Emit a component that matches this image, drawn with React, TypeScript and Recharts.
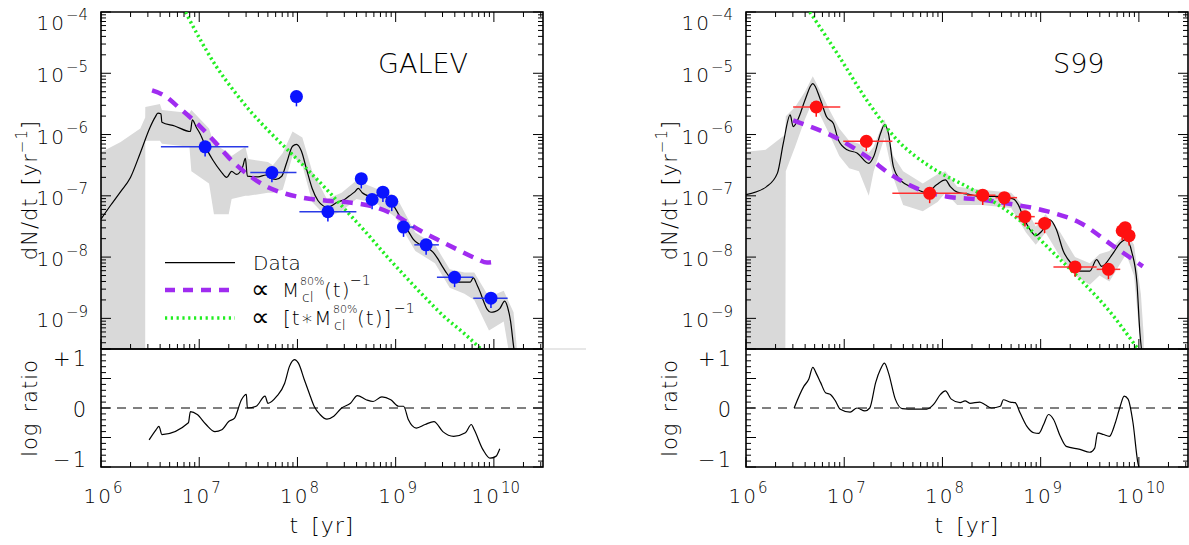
import React from 'react'
import { ComposedChart, Line, Area, Scatter, XAxis, YAxis, ReferenceLine, ReferenceArea, ErrorBar } from 'recharts'

// all values are log10: x = log t [yr], y = log dN/dt [yr^-1]

// ---- GALEV panel ----
const galevT = [6.0, 6.1, 6.2, 6.3, 6.4, 6.5, 6.55, 6.58, 6.61, 6.62, 6.75, 6.91, 6.93, 6.97, 7.01, 7.08, 7.14, 7.22, 7.28, 7.33, 7.38, 7.44, 7.47, 7.49, 7.6, 7.68, 7.71, 7.78, 7.84, 7.89, 7.95, 7.99, 8.04, 8.09, 8.15, 8.21, 8.26, 8.3, 8.35, 8.4, 8.48, 8.53, 8.58, 8.62, 8.66, 8.69, 8.75, 8.82, 8.87, 8.92, 8.97, 9.03, 9.08, 9.13, 9.18, 9.23, 9.28, 9.33, 9.38, 9.43, 9.47, 9.51, 9.55, 9.6, 9.65, 9.72, 9.76, 9.79, 9.83, 9.86, 9.9, 9.93, 9.97, 10.01, 10.06, 10.11, 10.14, 10.17, 10.2, 10.23]
const galevN = [-7.38, -7.15, -6.93, -6.7, -6.3, -5.88, -5.72, -5.65, -5.66, -5.8, -5.86, -5.95, -5.76, -5.88, -5.99, -6.25, -6.42, -6.6, -6.7, -6.6, -6.65, -6.54, -6.39, -6.68, -6.69, -6.66, -6.7, -6.73, -6.68, -6.46, -6.19, -6.16, -6.27, -6.55, -6.88, -7.08, -7.16, -7.19, -7.16, -7.11, -7.06, -7.0, -6.94, -6.88, -6.95, -6.98, -7.01, -6.99, -7.0, -7.05, -7.14, -7.3, -7.44, -7.58, -7.71, -7.78, -7.82, -7.86, -7.92, -8.03, -8.14, -8.24, -8.33, -8.39, -8.41, -8.41, -8.41, -8.34, -8.46, -8.57, -8.74, -8.85, -8.9, -8.89, -8.84, -8.72, -8.82, -9.05, -9.45, -9.8]
const galevBandT = [6.0, 6.2, 6.4, 6.45, 6.451, 6.6, 6.62, 6.9, 6.92, 7.1, 7.15, 7.3, 7.33, 7.47, 7.5, 7.7, 7.75, 7.85, 7.95, 8.05, 8.15, 8.3, 8.45, 8.6, 8.8, 9.0, 9.2, 9.4, 9.55, 9.7, 9.8, 9.95, 10.1, 10.2, 10.24]
const galevBandLo = [-10, -10, -10, -10, -6.1, -6.1, -6.15, -6.2, -6.6, -6.8, -7.3, -7.3, -7.05, -7.0, -7.0, -6.95, -6.95, -6.9, -6.35, -6.5, -7.1, -7.35, -7.25, -7.05, -7.12, -7.35, -7.9, -8.1, -8.5, -8.6, -8.7, -9.2, -9.05, -10, -10]
const galevBandHi = [-6.29, -6.12, -5.9, -5.72, -5.55, -5.5, -5.6, -5.65, -5.6, -5.9, -6.15, -6.3, -6.35, -6.2, -6.4, -6.45, -6.5, -6.3, -5.95, -6.05, -6.6, -7.05, -6.95, -6.75, -6.88, -7.0, -7.6, -7.8, -8.2, -8.25, -8.25, -8.65, -8.55, -8.9, -9.6]
const galevMT = [6.52, 6.63, 6.8, 7.01, 7.17, 7.34, 7.51, 7.7, 7.89, 8.05, 8.3, 8.53, 8.8, 9.01, 9.22, 9.42, 9.62, 9.83, 9.93, 10.03]
const galevM = [-5.28, -5.35, -5.57, -5.87, -6.14, -6.44, -6.67, -6.86, -6.97, -7.03, -7.08, -7.11, -7.19, -7.33, -7.54, -7.71, -7.87, -8.03, -8.09, -8.07]
const galevGT = [6.86, 7.0, 7.17, 7.35, 7.51, 7.7, 7.9, 8.1, 8.3, 8.5, 8.7, 8.9, 9.1, 9.3, 9.5, 9.7, 9.9]
const galevG = [-4.0, -4.42, -4.88, -5.28, -5.6, -5.93, -6.25, -6.57, -6.9, -7.25, -7.6, -7.97, -8.32, -8.66, -8.98, -9.25, -9.55]
const galevPtT = [7.06, 7.74, 7.99, 8.31, 8.65, 8.76, 8.87, 8.96, 9.08, 9.31, 9.6, 9.97]
const galevPtN = [-6.2, -6.62, -5.38, -7.26, -6.72, -7.06, -6.94, -7.09, -7.51, -7.8, -8.33, -8.67]
const galevPtLo = [6.61, 7.52, 7.99, 8.02, 8.65, 8.76, 8.87, 8.96, 9.03, 9.19, 9.42, 9.79]
const galevPtHi = [7.5, 7.99, 7.99, 8.6, 8.65, 8.76, 8.87, 8.96, 9.19, 9.44, 9.79, 10.14]
const galevRT = [6.49, 6.56, 6.59, 6.62, 6.89, 6.91, 6.98, 7.07, 7.16, 7.23, 7.3, 7.36, 7.43, 7.48, 7.49, 7.58, 7.67, 7.7, 7.79, 7.87, 7.92, 7.97, 8.01, 8.07, 8.12, 8.17, 8.23, 8.3, 8.37, 8.45, 8.54, 8.61, 8.7, 8.77, 8.86, 8.95, 9.03, 9.08, 9.13, 9.21, 9.3, 9.39, 9.48, 9.59, 9.71, 9.77, 9.8, 9.89, 9.96, 10.02, 10.06]
const galevR = [-0.54, -0.37, -0.31, -0.45, -0.25, -0.06, -0.11, -0.28, -0.4, -0.37, -0.23, -0.17, 0.14, 0.23, 0.0, 0.03, 0.2, 0.08, 0.2, 0.42, 0.71, 0.82, 0.76, 0.48, 0.25, 0.03, -0.11, -0.19, -0.14, 0.0, 0.08, 0.21, 0.14, 0.11, 0.19, 0.14, 0.03, 0.03, -0.2, -0.34, -0.28, -0.23, -0.4, -0.48, -0.42, -0.28, -0.37, -0.71, -0.85, -0.82, -0.69]

// ---- S99 panel ----
const s99T = [6.0, 6.21, 6.32, 6.38, 6.45, 6.48, 6.54, 6.6, 6.68, 6.76, 6.82, 6.89, 6.94, 7.03, 7.13, 7.25, 7.3, 7.37, 7.41, 7.45, 7.5, 7.57, 7.71, 7.84, 7.94, 8.03, 8.08, 8.15, 8.28, 8.38, 8.55, 8.72, 8.77, 8.82, 8.89, 8.95, 9.01, 9.09, 9.16, 9.23, 9.32, 9.4, 9.5, 9.57, 9.62, 9.74, 9.81, 9.87, 9.93, 9.98, 10.01, 10.03]
const s99N = [-6.98, -6.85, -6.63, -6.14, -5.68, -5.87, -5.71, -5.44, -5.17, -5.44, -5.71, -5.82, -6.09, -6.25, -6.3, -6.47, -6.36, -5.98, -5.84, -5.98, -6.52, -6.74, -6.87, -6.95, -6.82, -6.74, -6.85, -6.94, -6.98, -7.01, -7.01, -7.05, -7.14, -7.33, -7.55, -7.65, -7.58, -7.39, -7.55, -7.9, -8.12, -8.23, -8.23, -8.04, -8.15, -7.93, -7.77, -7.71, -7.93, -8.42, -9.23, -9.56]
const s99BandT = [6.0, 6.2, 6.4, 6.405, 6.5, 6.6, 6.68, 6.76, 6.85, 6.95, 7.05, 7.15, 7.25, 7.3, 7.41, 7.5, 7.6, 7.8, 7.95, 8.03, 8.15, 8.4, 8.7, 8.85, 8.95, 9.05, 9.2, 9.35, 9.5, 9.6, 9.7, 9.87, 9.95, 10.02, 10.05]
const s99BandLo = [-10, -10, -10, -6.6, -6.2, -5.75, -5.45, -5.7, -6.0, -6.35, -6.55, -6.6, -7.0, -6.6, -6.05, -6.7, -7.15, -7.25, -7.1, -6.95, -7.15, -7.15, -7.2, -7.6, -7.8, -7.6, -8.0, -8.3, -8.45, -8.3, -8.4, -7.95, -8.3, -9.5, -10]
const s99BandHi = [-6.28, -6.25, -6.0, -5.7, -5.55, -5.3, -5.05, -5.3, -5.6, -5.9, -6.1, -6.15, -6.3, -6.2, -5.75, -6.35, -6.6, -6.8, -6.65, -6.6, -6.85, -6.9, -6.95, -7.2, -7.5, -7.3, -7.6, -8.0, -8.1, -7.95, -7.9, -7.6, -7.8, -8.6, -9.3]
const s99MT = [6.48, 6.96, 7.23, 7.5, 7.77, 8.04, 8.38, 8.72, 9.06, 9.4, 9.74, 10.04]
const s99M = [-5.77, -6.09, -6.36, -6.68, -6.9, -7.01, -7.06, -7.14, -7.25, -7.44, -7.82, -8.15]
const s99GT = [6.65, 6.93, 7.23, 7.54, 7.87, 8.25, 8.4, 8.59, 8.86, 9.06, 9.4, 9.74, 9.94, 10.0]
const s99G = [-4.0, -4.68, -5.44, -6.09, -6.52, -6.85, -6.98, -7.17, -7.5, -7.82, -8.36, -8.96, -9.39, -9.52]
const s99PtT = [6.715, 7.225, 7.87, 8.41, 8.63, 8.84, 9.04, 9.35, 9.69, 9.83, 9.86, 9.9]
const s99PtN = [-5.55, -6.11, -6.96, -6.99, -7.03, -7.34, -7.45, -8.16, -8.2, -7.57, -7.52, -7.65]
const s99PtLo = [6.48, 6.99, 7.49, 8.25, 8.54, 8.74, 8.94, 9.13, 9.57, 9.83, 9.86, 9.9]
const s99PtHi = [6.96, 7.49, 8.25, 8.54, 8.76, 8.94, 9.1, 9.57, 9.81, 9.83, 9.86, 9.9]
const s99RT = [6.49, 6.59, 6.64, 6.68, 6.72, 6.76, 6.81, 6.86, 6.91, 6.96, 7.06, 7.13, 7.21, 7.26, 7.32, 7.37, 7.41, 7.45, 7.52, 7.59, 7.71, 7.84, 7.91, 7.98, 8.03, 8.09, 8.18, 8.23, 8.28, 8.38, 8.43, 8.5, 8.59, 8.62, 8.69, 8.74, 8.79, 8.86, 8.93, 8.98, 9.03, 9.08, 9.13, 9.2, 9.26, 9.4, 9.5, 9.55, 9.58, 9.64, 9.7, 9.76, 9.81, 9.85, 9.89, 9.94, 9.99, 10.01]
const s99R = [0.0, 0.37, 0.49, 0.69, 0.57, 0.43, 0.26, 0.23, 0.12, -0.02, -0.07, 0.0, -0.05, 0.0, 0.43, 0.66, 0.76, 0.6, 0.15, -0.01, -0.02, -0.02, 0.06, 0.23, 0.29, 0.15, 0.09, 0.12, 0.08, 0.1, 0.06, 0.0, 0.03, 0.14, 0.1, 0.09, -0.08, -0.31, -0.42, -0.43, -0.28, -0.11, -0.19, -0.48, -0.65, -0.7, -0.75, -0.68, -0.42, -0.45, -0.48, -0.25, 0.03, 0.2, 0.15, -0.25, -0.93, -1.05]

// axis ticks
const X_DECADES = [6, 7, 8, 9, 10]
const Y_DECADES = [-10, -9, -8, -7, -6, -5]
const MINOR = [1, 2, 3, 4, 5, 6, 7, 8, 9]
const X_TICKS = X_DECADES.flatMap((d) => MINOR.map((k) => d + Math.log10(k))).filter((v) => v <= 10.5)
const Y_TICKS = [...Y_DECADES.flatMap((d) => MINOR.map((k) => d + Math.log10(k))).filter((v) => v >= -9.5), -4]
const R_TICKS = Array.from({ length: 21 }, (_, i) => (i - 10) / 10)
const R_LABELS: Record<string, string> = { '1': '+1', '0': '0', '-1': '\u22121' }

const FONT = "'DejaVu Sans', sans-serif"
const FW = 200
const PH = 337
const RH = 118

const xy = (xs: number[], ys: number[]) => xs.map((x, i) => ({ x, y: ys[i] }))
const band = (xs: number[], lo: number[], hi: number[]) => xs.map((x, i) => ({ x, r: [lo[i], hi[i]] }))
const pts = (xs: number[], ys: number[], lo: number[], hi: number[]) =>
  xs.map((x, i) => ({ x, y: ys[i], ex: [x - lo[i], hi[i] - x], ey: [0.16, 0] }))

const isInt = (v: number) => Math.abs(v - Math.round(v)) < 1e-6

const yTickTop = (pw: number) => (p: any) => {
  const { x, y, payload } = p
  const v = payload.value
  const major = isInt(v)
  const len = major ? 10 : 5
  const shift = Math.round(v) === -4 && major ? 9 : 0
  return (
    <g>
      <line x1={x} x2={x + len} y1={y} y2={y} stroke="#000" strokeWidth={1} />
      <line x1={x + pw} x2={x + pw - len} y1={y} y2={y} stroke="#000" strokeWidth={1} />
      {major && (
        <text x={x - 13} y={y + 9 + shift} textAnchor="end" fontSize={20} fontFamily={FONT} fontWeight={FW} fill="#000" letterSpacing={2}>
          10<tspan dy={-10.5} fontSize={15} letterSpacing={0}>{'\u2212' + Math.round(-v)}</tspan>
        </text>
      )}
    </g>
  )
}

const yTickRatio = (pw: number) => (p: any) => {
  const { x, y, payload } = p
  const v = payload.value
  const major = isInt(v * 2)
  const len = major ? 10 : 5
  const lab = isInt(v) ? R_LABELS[String(Math.round(v))] : null
  const shift = v > 0.5 ? 8 : v < -0.5 ? -9 : 0
  return (
    <g>
      <line x1={x} x2={x + len} y1={y} y2={y} stroke="#000" strokeWidth={1} />
      <line x1={x + pw} x2={x + pw - len} y1={y} y2={y} stroke="#000" strokeWidth={1} />
      {lab && (
        <text x={x - 13} y={y + 9 + shift} textAnchor="end" fontSize={21} fontFamily={FONT} fontWeight={FW} fill="#000" letterSpacing={2}>
          {lab}
        </text>
      )}
    </g>
  )
}

const xTick = (ph: number, labels: boolean) => (p: any) => {
  const { x, y, payload } = p
  const v = payload.value
  const major = isInt(v)
  const len = major ? 10 : 5
  return (
    <g>
      <line x1={x} x2={x} y1={y} y2={y - len} stroke="#000" strokeWidth={1} />
      {!labels && <line x1={x} x2={x} y1={y - ph} y2={y - ph + len} stroke="#000" strokeWidth={1} />}
      {labels && major && (
        <text x={x + 2} y={y + 36} textAnchor="middle" fontSize={20} fontFamily={FONT} fontWeight={FW} fill="#000" letterSpacing={2}>
          10<tspan dy={-10} fontSize={15} letterSpacing={0}>{Math.round(v)}</tspan>
        </text>
      )}
    </g>
  )
}

interface PanelProps {
  divLeft: number
  plotLeft: number
  width: number
  pw: number
  lineT: number[]
  lineN: number[]
  bandT: number[]
  bandLo: number[]
  bandHi: number[]
  mT: number[]
  mN: number[]
  gT: number[]
  gN: number[]
  ptT: number[]
  ptN: number[]
  ptLo: number[]
  ptHi: number[]
  rT: number[]
  rV: number[]
  color: string
  errColor: string
}

function Panel(props: PanelProps) {
  const { divLeft, plotLeft, width, pw, color, errColor } = props
  const ml = plotLeft - divLeft
  const mr = width - ml - pw
  const dot = (p: any) => <circle cx={p.cx} cy={p.cy} r={6.5} fill={color} />
  return (
    <>
      <div style={{ position: 'absolute', left: divLeft, top: 0 }}>
        <ComposedChart width={width} height={360} margin={{ top: 12, left: ml - 1, right: mr, bottom: 10 }}>
          <XAxis type="number" dataKey="x" domain={[6, 10.5]} ticks={X_TICKS} interval={0} allowDataOverflow height={1} tickSize={0} tickMargin={0} tickLine={false} axisLine={false} tick={xTick(PH, false)} />
          <YAxis type="number" domain={[-9.5, -4]} ticks={Y_TICKS} interval={0} allowDataOverflow width={1} tickSize={0} tickMargin={0} tickLine={false} axisLine={false} tick={yTickTop(pw)} />
          <Area data={band(props.bandT, props.bandLo, props.bandHi)} dataKey="r" type="linear" stroke="none" fill="#d9d9d9" fillOpacity={1} isAnimationActive={false} dot={false} activeDot={false} />
          <Line data={xy(props.lineT, props.lineN)} dataKey="y" type="monotone" stroke="#000" strokeWidth={1.2} dot={false} activeDot={false} isAnimationActive={false} />
          <Line data={xy(props.mT, props.mN)} dataKey="y" type="monotone" stroke="#a02cf0" strokeWidth={4.5} strokeDasharray="11 8" dot={false} activeDot={false} isAnimationActive={false} />
          <Line data={xy(props.gT, props.gN)} dataKey="y" type="monotone" stroke="#22ee22" strokeWidth={3.5} strokeDasharray="2.2 3" dot={false} activeDot={false} isAnimationActive={false} />
          <Scatter data={pts(props.ptT, props.ptN, props.ptLo, props.ptHi)} dataKey="y" shape={dot} isAnimationActive={false}>
            <ErrorBar dataKey="ex" direction="x" width={0} stroke={errColor} strokeWidth={1.5} isAnimationActive={false} />
            <ErrorBar dataKey="ey" direction="y" width={0} stroke={color} strokeWidth={1.5} isAnimationActive={false} />
          </Scatter>
          <ReferenceArea x1={6} x2={10.5} y1={-9.5} y2={-4} fill="none" stroke="#000" strokeWidth={1.6} ifOverflow="visible" />
        </ComposedChart>
      </div>
      <div style={{ position: 'absolute', left: divLeft, top: 340 }}>
        <ComposedChart width={width} height={205} margin={{ top: 9, left: ml - 1, right: mr, bottom: 77 }}>
          <XAxis type="number" dataKey="x" domain={[6, 10.5]} ticks={X_TICKS} interval={0} allowDataOverflow height={1} tickSize={0} tickMargin={0} tickLine={false} axisLine={false} tick={xTick(RH, true)} />
          <YAxis type="number" domain={[-1, 1]} ticks={R_TICKS} interval={0} allowDataOverflow width={1} tickSize={0} tickMargin={0} tickLine={false} axisLine={false} tick={yTickRatio(pw)} />
          <ReferenceLine y={0} stroke="#000" strokeWidth={1} strokeDasharray="9 7" />
          <Line data={xy(props.rT, props.rV)} dataKey="y" type="monotone" stroke="#000" strokeWidth={1.2} dot={false} activeDot={false} isAnimationActive={false} />
          <ReferenceArea x1={6} x2={10.5} y1={-1} y2={1} fill="none" stroke="#000" strokeWidth={1.6} ifOverflow="visible" />
        </ComposedChart>
      </div>
    </>
  )
}

const txt = { fontFamily: FONT, fontWeight: FW, fill: '#000' } as const

function Titles({ axisX, plotMid }: { axisX: number; plotMid: number }) {
  return (
    <>
      <text transform={`translate(${axisX},190) rotate(-90)`} textAnchor="middle" fontSize={21} letterSpacing={1} {...txt}>
        dN/dt<tspan dx={12}>[yr</tspan><tspan dy={-10} fontSize={15}>{'\u22121'}</tspan><tspan dy={10}>]</tspan>
      </text>
      <text transform={`translate(${axisX},408) rotate(-90)`} textAnchor="middle" fontSize={21} letterSpacing={1} {...txt}>
        log<tspan dx={10}>ratio</tspan>
      </text>
      <text x={plotMid} y={533} textAnchor="middle" fontSize={22} letterSpacing={1} {...txt}>
        t<tspan dx={12}>[yr]</tspan>
      </text>
    </>
  )
}

export default function App() {
  return (
    <div style={{ position: 'absolute', left: 0, top: 0, width: 1189, height: 545, background: '#fff' }}>
      <Panel
        divLeft={0} plotLeft={101} width={560} pw={442}
        lineT={galevT} lineN={galevN} bandT={galevBandT} bandLo={galevBandLo} bandHi={galevBandHi}
        mT={galevMT} mN={galevM} gT={galevGT} gN={galevG}
        ptT={galevPtT} ptN={galevPtN} ptLo={galevPtLo} ptHi={galevPtHi}
        rT={galevRT} rV={galevR} color="#0a14ff" errColor="#2a3ae6"
      />
      <Panel
        divLeft={600} plotLeft={746} width={589} pw={442}
        lineT={s99T} lineN={s99N} bandT={s99BandT} bandLo={s99BandLo} bandHi={s99BandHi}
        mT={s99MT} mN={s99M} gT={s99GT} gN={s99G}
        ptT={s99PtT} ptN={s99PtN} ptLo={s99PtLo} ptHi={s99PtHi}
        rT={s99RT} rV={s99R} color="#ff1010" errColor="#ff3030"
      />
      <svg width={1189} height={545} style={{ position: 'absolute', left: 0, top: 0, pointerEvents: 'none' }}>
        <line x1={543} x2={586} y1={349} y2={349} stroke="#cfcfcf" strokeWidth={1} />
        <Titles axisX={37} plotMid={322} />
        <Titles axisX={677} plotMid={967} />
        <text x={378} y={73} fontSize={27} {...txt}>GALEV</text>
        <text x={1053} y={73} fontSize={27} {...txt}>S99</text>
        {/* legend */}
        <line x1={165} x2={235} y1={262.7} y2={262.7} stroke="#000" strokeWidth={1.2} />
        <line x1={165} x2={235} y1={290} y2={290} stroke="#a02cf0" strokeWidth={4.5} strokeDasharray="10 8" />
        <line x1={165} x2={235} y1={318} y2={318} stroke="#22ee22" strokeWidth={3.5} strokeDasharray="2.2 3.6" />
        <text x={253} y={270} fontSize={20} {...txt}>Data</text>
        <text x={251} y={298} fontSize={26} {...txt}>{'\u221d'}</text>
        <text x={282} y={297} fontSize={20} {...txt}>M</text>
        <text x={300} y={285} fontSize={11} {...txt}>80%</text>
        <text x={302} y={302} fontSize={14} {...txt}>cl</text>
        <text x={324} y={297} fontSize={20} letterSpacing={1} {...txt}>(t)</text>
        <text x={350} y={285} fontSize={14} {...txt}>{'\u22121'}</text>
        <text x={251} y={326} fontSize={26} {...txt}>{'\u221d'}</text>
        <text x={283} y={325} fontSize={20} letterSpacing={1} {...txt}>[t{'\u2217'}M</text>
        <text x={333} y={313} fontSize={11} {...txt}>80%</text>
        <text x={334} y={330} fontSize={14} {...txt}>cl</text>
        <text x={357} y={325} fontSize={20} letterSpacing={1} {...txt}>(t)]</text>
        <text x={394} y={313} fontSize={14} {...txt}>{'\u22121'}</text>
      </svg>
    </div>
  )
}
